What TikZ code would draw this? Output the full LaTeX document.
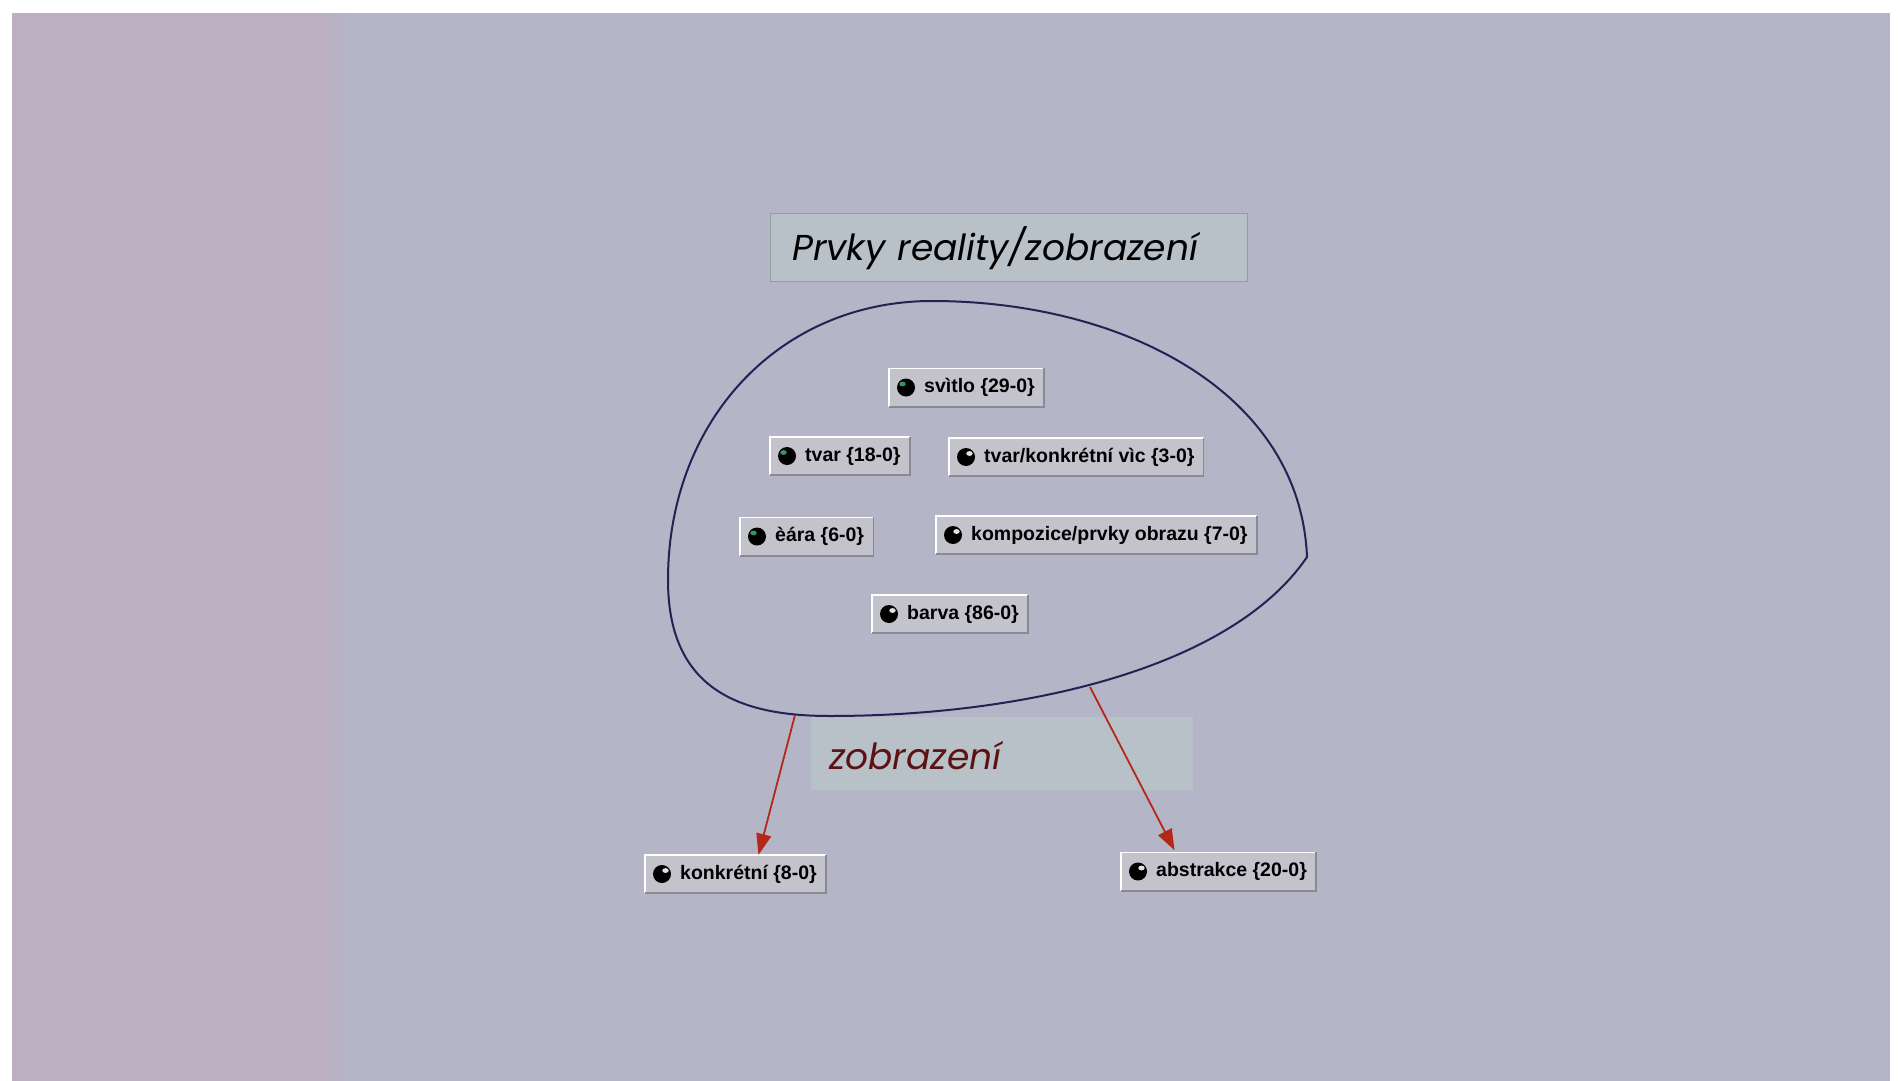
\documentclass[tikz,border=0pt]{standalone}
\usepackage{fontspec}
\setmainfont{Liberation Sans}
\newfontfamily\gothic{Poppins}
\usetikzlibrary{arrows.meta}

\definecolor{paper}{RGB}{180,181,198}
\definecolor{paperpink}{RGB}{189,174,194}
\definecolor{capfill}{RGB}{184,193,200}
\definecolor{capline}{RGB}{150,156,166}
\definecolor{leaffill}{RGB}{196,195,204}
\definecolor{leafshade}{RGB}{138,138,150}
\definecolor{blobline}{RGB}{36,34,84}
\definecolor{linkred}{RGB}{180,40,26}
\definecolor{wordred}{RGB}{92,18,18}
\definecolor{ballgreen}{RGB}{50,150,100}
\definecolor{ballwhite}{RGB}{225,225,230}

\tikzset{
  leaf/.style={anchor=west, fill=leaffill, minimum height=38pt,
    inner xsep=9pt, inner ysep=0pt, text=black,
    font=\bfseries\fontsize{19.5}{23}\selectfont},
  capbox/.style={anchor=north west, fill=capfill, inner ysep=0pt, align=left},
  capfont/.style={font=\gothic\itshape\fontsize{36}{42}\selectfont},
  link/.style={linkred, line width=1.8pt, -{Triangle[length=21pt,width=15pt]}},
}

\begin{document}
\begin{tikzpicture}[x=1pt,y=-1pt]
\useasboundingbox (0,0) rectangle (1898,1081);

% paper
\fill[white] (0,0) rectangle (1898,1081);
\fill[paper] (12,13) rectangle (1890,1081);
\fill[paperpink] (12,13) rectangle (322,1081);
\foreach \k in {0,...,9} {
  \pgfmathsetmacro\mix{100-\k*10}
  \fill[paperpink!\mix!paper] (322+\k*2.5,13) rectangle (324.5+\k*2.5,1081);
}

% heading
\node[capbox, capfont, draw=capline, line width=0.8pt, minimum width=477pt, minimum height=68pt,
      text width=433pt, inner xsep=22pt, text height=27pt, text depth=0pt] (title) at (770,213)
      {Prvky reality/zobrazení};

% caption below the set
\node[capbox, capfont, minimum width=382pt, minimum height=73pt,
      text width=346pt, inner xsep=18pt, text height=32pt, text depth=0pt,
      text=wordred] (caption) at (811,717)
      {zobrazení};

% outline of the set
\draw[blobline, line width=2pt]
  (1307,557) .. controls (1300,390) and (1120,301) .. (932,301)
             .. controls (780,301) and (668,420) .. (668,580)
             .. controls (668,690) and (740,716) .. (830,716)
             .. controls (1020,716) and (1230,670) .. (1307,557) -- cycle;

\coordinate (lft) at (795,715);
\coordinate (rgt) at (1090,687);

% items
\node[leaf] (svitlo)    at (889,387.5) {\hspace*{26pt}svìtlo \{29-0\}};
\node[leaf] (tvar)      at (770,456)   {\hspace*{26pt}tvar \{18-0\}};
\node[leaf] (tvarvec)   at (949,457)   {\hspace*{26pt}tvar/konkrétní vìc \{3-0\}};
\node[leaf] (cara)      at (740,536.5) {\hspace*{26pt}èára \{6-0\}};
\node[leaf] (kompozice) at (936,535)   {\hspace*{26pt}kompozice/prvky obrazu \{7-0\}};
\node[leaf] (barva)     at (872,614)   {\hspace*{26pt}barva \{86-0\}};
\node[leaf] (konkretni) at (645,874)   {\hspace*{26pt}konkrétní \{8-0\}};
\node[leaf] (abstrakce) at (1121,871.5){\hspace*{26pt}abstrakce \{20-0\}};

% raised edges and ball bullets
\foreach \n/\h/\d in {svitlo/ballgreen/-1, tvar/ballgreen/-1, cara/ballgreen/-1,
    tvarvec/ballwhite/1, kompozice/ballwhite/1, barva/ballwhite/1,
    konkretni/ballwhite/1, abstrakce/ballwhite/1} {
  \draw[white, line width=1.6pt] (\n.south west) -- (\n.north west) -- (\n.north east);
  \draw[leafshade, line width=1.6pt] (\n.north east) -- (\n.south east) -- (\n.south west);
  \fill[black] ([xshift=17pt]\n.west) circle (9pt);
  \fill[\h] ([xshift=17pt+\d*3.5pt, yshift=3.5pt]\n.west) ellipse (3.2pt and 2.4pt);
}

% links
\draw[link] (lft) -- ([xshift=23pt]konkretni.north);
\draw[link] (rgt) -- ([xshift=-44pt, yshift=2pt]abstrakce.north);
\end{tikzpicture}
\end{document}
